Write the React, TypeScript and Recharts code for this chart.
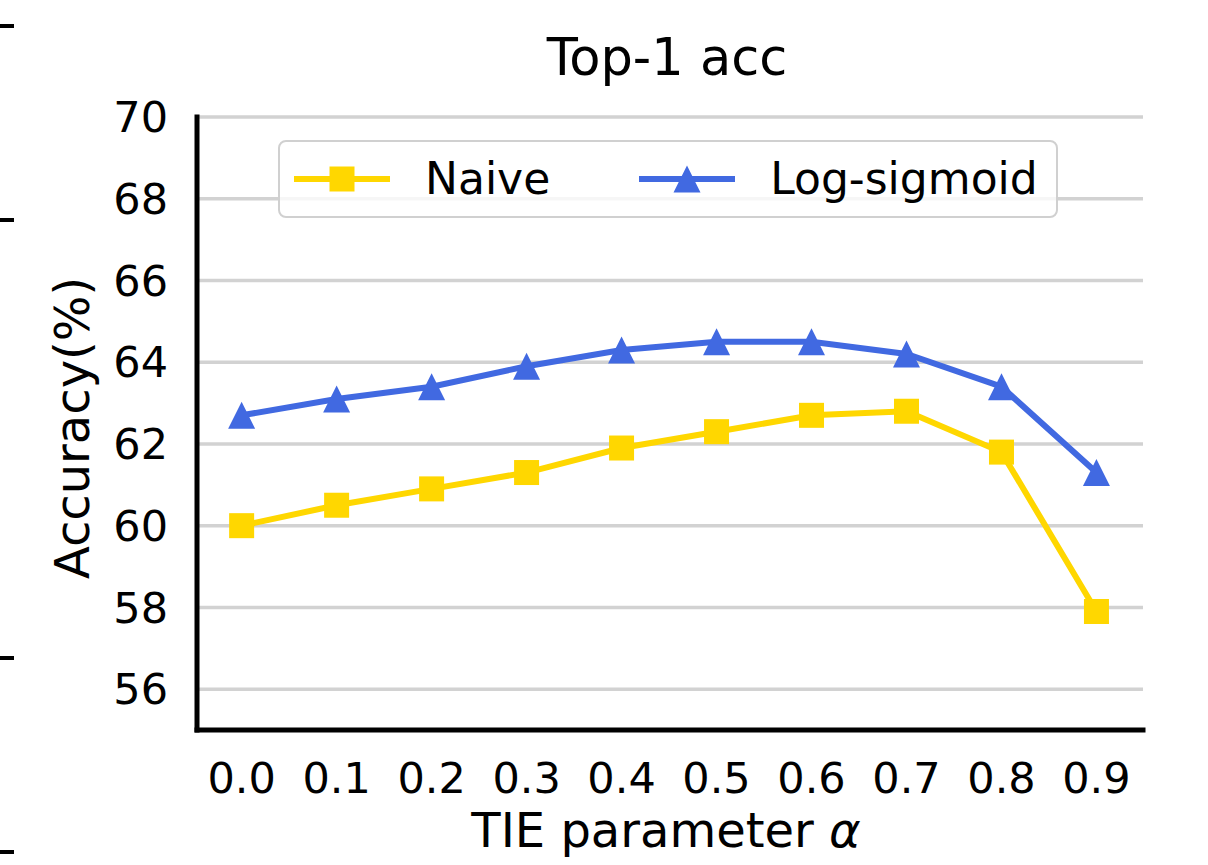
import React from "react";
import {
  LineChart,
  Line,
  XAxis,
  YAxis,
  CartesianGrid,
  Legend,
} from "recharts";

const alphas = [0.0, 0.1, 0.2, 0.3, 0.4, 0.5, 0.6, 0.7, 0.8, 0.9];
const naive = [60.0, 60.5, 60.9, 61.3, 61.9, 62.3, 62.7, 62.8, 61.8, 57.9];
const logSigmoid = [62.7, 63.1, 63.4, 63.9, 64.3, 64.5, 64.5, 64.2, 63.4, 61.3];
const yTicks = [56, 58, 60, 62, 64, 66, 68, 70];

const FONT = "'DejaVu Sans', sans-serif";
const YELLOW = "#FFD700";
const BLUE = "#4169E1";

const data = alphas.map((a, i) => ({
  alpha: a,
  naive: naive[i],
  logSigmoid: logSigmoid[i],
}));

// square marker (matplotlib "s")
function SquareDot(props: any) {
  const { cx, cy, index } = props;
  if (cx == null || cy == null) return null;
  const s = 25;
  return (
    <rect key={`sq-${index}`} x={cx - s / 2} y={cy - s / 2} width={s} height={s} fill={YELLOW} />
  );
}

// triangle marker (matplotlib "^")
function TriangleDot(props: any) {
  const { cx, cy, index } = props;
  if (cx == null || cy == null) return null;
  const w = 27;
  const h = 27;
  return (
    <polygon
      key={`tri-${index}`}
      points={`${cx},${cy - h / 2} ${cx - w / 2},${cy + h / 2} ${cx + w / 2},${cy + h / 2}`}
      fill={BLUE}
    />
  );
}

function LegendBox() {
  const item = (label: string, color: string, marker: "s" | "^", gapAfter: number) => (
    <div style={{ display: "flex", alignItems: "center", marginRight: gapAfter }}>
      <svg width={96} height={30} style={{ marginRight: 35 }}>
        <line x1={0} y1={15} x2={96} y2={15} stroke={color} strokeWidth={6} />
        {marker === "s" ? (
          <rect x={35.5} y={2.5} width={25} height={25} fill={color} />
        ) : (
          <polygon points="48,1.5 34.5,28.5 61.5,28.5" fill={color} />
        )}
      </svg>
      <span>{label}</span>
    </div>
  );
  return (
    <div
      style={{
        boxSizing: "border-box",
        width: 780,
        height: 78,
        border: "2px solid #d0d0d0",
        borderRadius: 8,
        background: "rgba(255,255,255,0.8)",
        display: "flex",
        alignItems: "center",
        paddingLeft: 14,
        fontFamily: FONT,
        fontSize: 44,
        color: "#000",
        lineHeight: 1,
      }}
    >
      {item("Naive", YELLOW, "s", 89)}
      {item("Log-sigmoid", BLUE, "^", 0)}
    </div>
  );
}

export default function App() {
  const marks = [26, 220, 658, 852];
  return (
    <div
      style={{
        position: "absolute",
        left: 0,
        top: 0,
        width: 1208,
        height: 865,
        background: "#fff",
        overflow: "hidden",
      }}
    >
      {marks.map((y) => (
        <div
          key={y}
          style={{ position: "absolute", left: 0, top: y - 2, width: 14, height: 4, background: "#000" }}
        />
      ))}

      <LineChart
        width={1208}
        height={865}
        data={data}
        margin={{ top: 117, right: 65, bottom: 75, left: 107 }}
        style={{ fontFamily: FONT }}
      >
        <CartesianGrid vertical={false} stroke="#d2d2d2" strokeWidth={3.5} />
        <XAxis
          dataKey="alpha"
          type="number"
          domain={[-0.047, 0.949]}
          ticks={alphas}
          tickFormatter={(v: number) => v.toFixed(1)}
          height={60}
          tickLine={false}
          tickSize={0}
          tickMargin={32}
          axisLine={{ stroke: "#000", strokeWidth: 5, strokeLinecap: "square" }}
          tick={{ fill: "#000", fontSize: 43, fontFamily: FONT }}
          interval={0}
        />
        <YAxis
          type="number"
          domain={[55, 70]}
          ticks={yTicks}
          width={90}
          tickLine={false}
          tickSize={0}
          tickMargin={29}
          axisLine={{ stroke: "#000", strokeWidth: 5, strokeLinecap: "square" }}
          tick={{ fill: "#000", fontSize: 43, fontFamily: FONT }}
          interval={0}
        />
        <Legend
          layout="horizontal"
          verticalAlign="middle"
          align="center"
          content={() => <LegendBox />}
          wrapperStyle={{ left: 278, top: 140, width: 780, height: 78, bottom: "auto", right: "auto" }}
        />
        <Line
          name="Naive"
          dataKey="naive"
          stroke={YELLOW}
          strokeWidth={6}
          dot={(p: any) => <SquareDot {...p} />}
          activeDot={false}
          isAnimationActive={false}
        />
        <Line
          name="Log-sigmoid"
          dataKey="logSigmoid"
          stroke={BLUE}
          strokeWidth={6}
          dot={(p: any) => <TriangleDot {...p} />}
          activeDot={false}
          isAnimationActive={false}
        />
      </LineChart>

      <svg
        width={1208}
        height={865}
        style={{ position: "absolute", left: 0, top: 0, pointerEvents: "none", fontFamily: FONT }}
      >
        <text x={667} y={75} textAnchor="middle" fontSize={51} fill="#000">
          Top-1 acc
        </text>
        <text x={666} y={847} textAnchor="middle" fontSize={48} fill="#000">
          TIE parameter <tspan fontStyle="italic">α</tspan>
        </text>
        <text
          x={0}
          y={0}
          transform="translate(89,428) rotate(-90)"
          textAnchor="middle"
          fontSize={48}
          fill="#000"
        >
          Accuracy(%)
        </text>
      </svg>
    </div>
  );
}
